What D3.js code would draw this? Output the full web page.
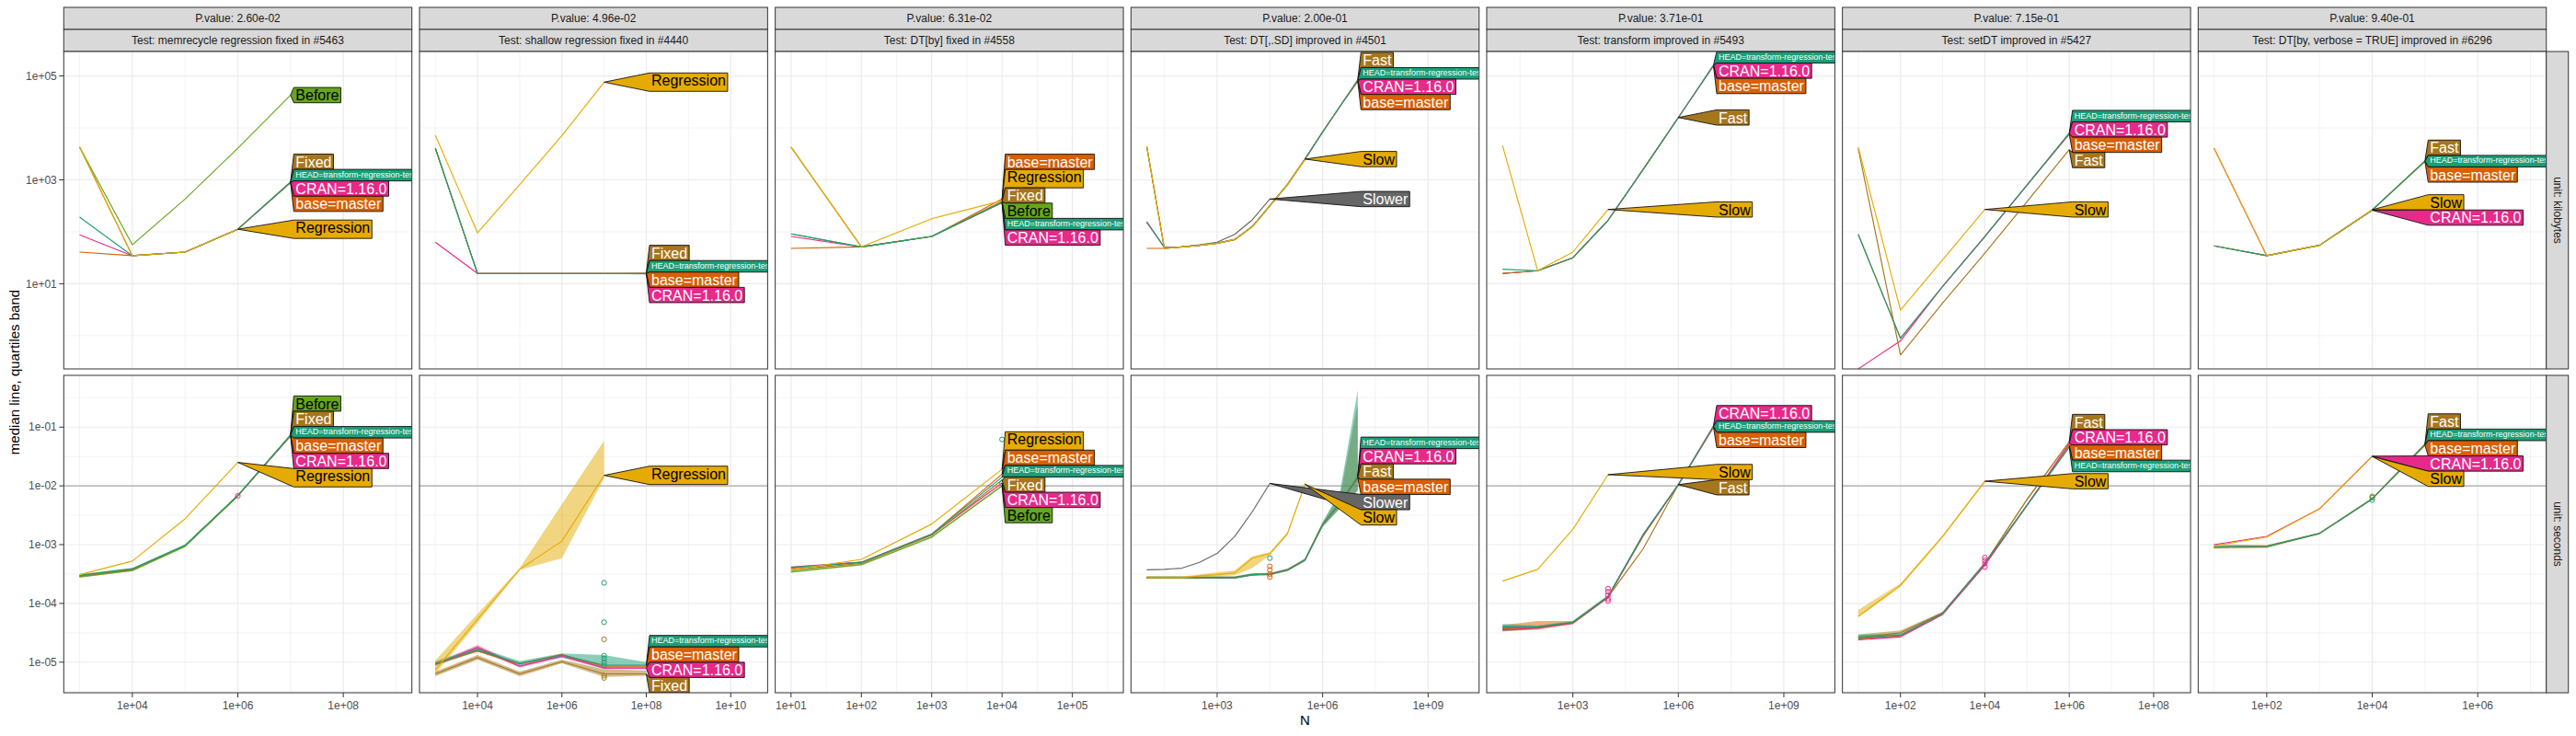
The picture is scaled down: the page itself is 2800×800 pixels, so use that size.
<!DOCTYPE html>
<html><head><meta charset="utf-8">
<script src="https://cdn.jsdelivr.net/npm/d3@7"></script>
<style>
body{margin:0;background:#fff;}
text{font-family:"Liberation Sans",Arial,Helvetica,sans-serif;}
</style></head><body>
<svg id="chart" width="2800" height="800"></svg>
<script>
// ---------------- DATA ----------------
const testTitles = ["Test: memrecycle regression fixed in #5463","Test: shallow regression fixed in #4440","Test: DT[by] fixed in #4558","Test: DT[,.SD] improved in #4501","Test: transform improved in #5493","Test: setDT improved in #5427","Test: DT[by, verbose = TRUE] improved in #6296"];
const pValues = ["P.value: 2.60e-02","P.value: 4.96e-02","P.value: 6.31e-02","P.value: 2.00e-01","P.value: 3.71e-01","P.value: 7.15e-01","P.value: 9.40e-01"];
const unitNames = ["unit: kilobytes","unit: seconds"];
const seriesLabels = [["HEAD","HEAD=transform-regression-test"],["CRAN","CRAN=1.16.0"],["base","base=master"],["Before","Before"],["Regression","Regression"],["Fixed","Fixed"],["Fast","Fast"],["Slow","Slow"],["Slower","Slower"]];
const xLimits = [[1e3,1e9],[1e3,3.16e10],[10,3.16e5],[10,1e10],[10,1e10],[10,3.16e8],[10,1e7]];
const xTickLabels = [["1e+04","1e+06","1e+08"],["1e+04","1e+06","1e+08","1e+10"],["1e+01","1e+02","1e+03","1e+04","1e+05"],["1e+03","1e+06","1e+09"],["1e+03","1e+06","1e+09"],["1e+02","1e+04","1e+06","1e+08"],["1e+02","1e+04","1e+06"]];
const yLimits = [[0.435,1.556e5],[5.31e-6,0.4315]];
const yTickLabels = [["1e+05","1e+03","1e+01"],["1e-01","1e-02","1e-03","1e-04","1e-05"]];
const secRefLine = [1e-2];

// 1. memrecycle
const N_mem = [1e3,1e4,1e5,1e6,1e7];
const kb_mem = [
 ["base",[40.7,34.7,40.7,112,881]],
 ["CRAN",[87.1,34.7,40.7,112,891]],
 ["Fixed",[4270,34.7,40.7,112,912]],
 ["Before",[4270,56.2,427,4070,42700]],
 ["HEAD",[191,34.7,40.7,112,902]],
 ["Regression",[4270,34.7,40.7,112]]];
const sec_mem = [
 ["base",[2.95e-4,3.80e-4,9.55e-4,6.76e-3,7.16e-2]],
 ["CRAN",[2.88e-4,3.72e-4,9.55e-4,6.76e-3,7.08e-2]],
 ["Fixed",[2.95e-4,3.80e-4,9.55e-4,6.76e-3,7.33e-2]],
 ["Before",[2.82e-4,3.63e-4,9.33e-4,6.76e-3,7.41e-2]],
 ["HEAD",[3.02e-4,3.89e-4,9.77e-4,6.92e-3,7.24e-2]],
 ["Regression",[3.09e-4,5.25e-4,2.75e-3,2.51e-2]]];
const bands_mem = [["HEAD",[2.75e-4,3.55e-4,9.1e-4,6.6e-3,7.0e-2],[3.16e-4,4.0e-4,1.0e-3,7.1e-3,7.4e-2]]];
const pts_mem = [["CRAN",1e6,[6.76e-3]]];

// 2. shallow
const N_sh = [1e3,1e4,1e5,1e6,1e7,1e8];
const kb_sh = [
 ["base",[4070,15.8,15.8,15.8,15.8,15.7]],
 ["CRAN",[63.1,15.8,15.8,15.8,15.8,15.5]],
 ["Fixed",[4070,15.8,15.8,15.8,15.8,16.0]],
 ["HEAD",[4070,15.8,15.8,15.8,15.8,15.8]],
 ["Regression",[7240,95.5,813,7080,75900]]];
const sec_sh = [
 ["base",[9.33e-6,1.55e-5,9.33e-6,1.35e-5,8.51e-6,8.51e-6]],
 ["CRAN",[9.12e-6,1.78e-5,8.51e-6,1.29e-5,7.94e-6,7.94e-6]],
 ["Fixed",[6.31e-6,1.20e-5,6.31e-6,1.02e-5,6.31e-6,6.31e-6]],
 ["HEAD",[9.55e-6,1.62e-5,9.55e-6,1.32e-5,8.91e-6,8.91e-6]],
 ["Regression",[7.41e-6,5.37e-5,3.80e-4,1.15e-3,1.51e-2]]];
const bands_sh = [
 ["Regression",[6.31e-6,4.68e-5,3.72e-4,5.89e-4,1.35e-2],[1.07e-5,6.61e-5,3.98e-4,4.90e-3,5.89e-2]],
 ["HEAD",[8.71e-6,1.51e-5,8.71e-6,1.20e-5,8.32e-6,8.51e-6],[1.05e-5,1.78e-5,1.05e-5,1.41e-5,1.32e-5,1.0e-5]],
 ["CRAN",[8.7e-6,1.62e-5,8.1e-6,1.2e-5,7.6e-6,7.6e-6],[9.6e-6,1.95e-5,8.9e-6,1.38e-5,8.3e-6,8.3e-6]],
 ["Fixed",[5.75e-6,1.10e-5,5.75e-6,9.55e-6,5.62e-6,5.89e-6],[6.92e-6,1.32e-5,6.92e-6,1.10e-5,7.59e-6,7.24e-6]]];
const pts_sh = [["HEAD",1e7,[2.24e-4,4.79e-5,1.29e-5,1.15e-5,1.0e-5,8.9e-6]],["Fixed",1e7,[2.45e-5,5.89e-6,5.4e-6]]];

// 3. DT[by]
const N_by = [10,100,1e3,1e4];
const kb_by = [
 ["base",[47.9,51.3,81.3,427]],
 ["CRAN",[81.3,51.3,81.3,359]],
 ["Fixed",[4270,51.3,81.3,385]],
 ["Before",[91.2,51.3,81.3,376]],
 ["HEAD",[91.2,51.3,81.3,367]],
 ["Regression",[4270,51.3,178,398]]];
const sec_by = [
 ["base",[3.98e-4,5.01e-4,1.51e-3,1.58e-2]],
 ["CRAN",[4.17e-4,5.01e-4,1.48e-3,1.12e-2]],
 ["Fixed",[3.72e-4,4.79e-4,1.45e-3,1.26e-2]],
 ["Before",[3.47e-4,4.57e-4,1.35e-3,1.0e-2]],
 ["HEAD",[4.07e-4,5.01e-4,1.51e-3,1.41e-2]],
 ["Regression",[3.72e-4,5.62e-4,2.24e-3,1.91e-2]]];
const bands_by = [["Before",[3.3e-4,4.4e-4,1.3e-3,9.6e-3],[3.6e-4,4.7e-4,1.4e-3,1.05e-2]]];
const pts_by = [["HEAD",1e4,[6.17e-2,1.12e-2]]];

// 4. DT[,.SD]
const N_sd = [10,31.6,100,316,1e3,3160,1e4,31600,1e5,316000,1e6,3160000,1e7];
const kb_sd = [
 ["Slower",[4370,47.9,51.3,56.2,63.1,89.1,170,427]],
 ["base",[47.9,47.9,51.3,55.0,60.3,70.8,126,316,813,2510,8320,26300,78500]],
 ["CRAN",[151,50.1,51.3,55.0,60.3,70.8,126,316,813,2510,8320,26300,80400]],
 ["Fast",[4370,47.9,51.3,55.0,60.3,70.8,126,316,813,2510,8320,26300,85100]],
 ["HEAD",[158,50.1,51.3,55.0,60.3,70.8,126,316,813,2510,8320,26300,82200]],
 ["Slow",[4370,47.9,51.3,55.0,60.3,70.8,126,316,813,2510]]];
const sec_sd = [
 ["Slower",[3.72e-4,3.80e-4,3.98e-4,5.01e-4,7.08e-4,1.38e-3,3.63e-3,1.10e-2]],
 ["base",[2.75e-4,2.75e-4,2.75e-4,2.75e-4,2.75e-4,2.75e-4,3.09e-4,3.16e-4,3.72e-4,5.50e-4,2.19e-3,5.13e-3,1.35e-2]],
 ["CRAN",[2.75e-4,2.75e-4,2.75e-4,2.75e-4,2.75e-4,2.75e-4,3.09e-4,3.16e-4,3.72e-4,5.50e-4,2.19e-3,5.13e-3,1.41e-2]],
 ["Fast",[2.75e-4,2.75e-4,2.75e-4,2.75e-4,2.75e-4,2.75e-4,3.09e-4,3.16e-4,3.72e-4,5.50e-4,2.19e-3,5.13e-3,1.38e-2]],
 ["HEAD",[2.75e-4,2.75e-4,2.75e-4,2.75e-4,2.75e-4,2.75e-4,3.09e-4,3.16e-4,3.72e-4,5.50e-4,2.19e-3,5.13e-3,1.45e-2]],
 ["Slow",[2.75e-4,2.75e-4,2.75e-4,2.95e-4,3.09e-4,3.31e-4,5.89e-4,7.08e-4,1.55e-3,1.07e-2]]];
const bands_sd = [
 ["Slow",[2.63e-4,2.63e-4,2.63e-4,2.75e-4,2.88e-4,3.02e-4,3.98e-4,6.61e-4,1.45e-3,1.02e-2],[2.88e-4,2.88e-4,2.88e-4,3.09e-4,3.39e-4,3.63e-4,6.31e-4,7.41e-4,1.62e-3,1.12e-2]],
 ["HEAD",[2.63e-4,2.63e-4,2.63e-4,2.63e-4,2.63e-4,2.63e-4,2.95e-4,3.02e-4,3.55e-4,5.25e-4,2.0e-3,4.2e-3,8.3e-3],[2.88e-4,2.88e-4,2.88e-4,2.88e-4,2.88e-4,2.88e-4,3.24e-4,3.31e-4,3.89e-4,5.75e-4,2.4e-3,8.3e-3,0.427]],
 ["Fast",[2.63e-4,2.63e-4,2.63e-4,2.63e-4,2.63e-4,2.63e-4,2.95e-4,3.02e-4,3.55e-4,5.25e-4,2.0e-3,4.2e-3,8.3e-3],[2.88e-4,2.88e-4,2.88e-4,2.88e-4,2.88e-4,2.88e-4,3.24e-4,3.31e-4,3.89e-4,5.75e-4,2.4e-3,7.0e-3,0.25]]];
const pts_sd = [["HEAD",31600,[5.89e-4]],["base",31600,[4.27e-4,3.72e-4,3.16e-4,2.82e-4]]];

// 5. transform
const N_tr = [10,100,1e3,1e4,1e5,1e6,1e7];
const kb_tr = [
 ["base",[15.8,17.8,31.6,166,1585,15849,154900]],
 ["CRAN",[15.8,17.8,31.6,166,1585,15849,158500]],
 ["Fast",[15.8,17.8,31.6,166,1585,15849]],
 ["HEAD",[19.1,17.8,31.6,166,1585,15849,162200]],
 ["Slow",[4570,17.8,40.7,269]]];
const sec_tr = [
 ["base",[3.72e-5,3.89e-5,4.68e-5,1.29e-4,1.41e-3,1.05e-2,0.100]],
 ["CRAN",[3.55e-5,3.80e-5,4.57e-5,1.26e-4,1.48e-3,1.05e-2,0.105]],
 ["Fast",[3.80e-5,3.98e-5,4.68e-5,1.29e-4,8.51e-4,1.05e-2]],
 ["HEAD",[3.98e-5,3.98e-5,4.79e-5,1.32e-4,1.48e-3,1.05e-2,0.102]],
 ["Slow",[2.40e-4,3.80e-4,1.82e-3,1.55e-2]]];
const bands_tr = [
 ["base",[3.39e-5,3.55e-5,4.47e-5,1.23e-4,1.35e-3,1.0e-2,9.5e-2],[4.27e-5,5.01e-5,5.0e-5,1.35e-4,1.48e-3,1.1e-2,0.105]],
 ["HEAD",[3.31e-5,3.7e-5,4.6e-5,1.26e-4,1.41e-3,1.0e-2,9.8e-2],[4.47e-5,4.2e-5,5.0e-5,1.38e-4,1.55e-3,1.1e-2,0.106]]];
const pts_tr = [["CRAN",1e4,[1.78e-4,1.58e-4,1.38e-4,1.20e-4,1.10e-4]]];

// 6. setDT
const N_set = [10,100,1e3,1e4,1e5,1e6];
const kb_set = [
 ["base",[89.1,0.891,8.91,81.3,794,7590]],
 ["CRAN",[0.23,0.794,8.91,81.3,794,7760]],
 ["Fast",[3980,0.427,4.27,38.9,380,3800]],
 ["HEAD",[89.1,0.891,8.91,81.3,794,7940]],
 ["Slow",[4270,3.09,28.8,269]]];
const sec_set = [
 ["base",[2.51e-5,2.82e-5,6.76e-5,4.68e-4,4.68e-3,4.90e-2]],
 ["CRAN",[2.40e-5,2.69e-5,6.46e-5,4.47e-4,4.68e-3,5.25e-2]],
 ["Fast",[2.63e-5,3.16e-5,6.92e-5,4.79e-4,5.89e-3,5.62e-2]],
 ["HEAD",[2.63e-5,2.88e-5,6.76e-5,4.79e-4,4.68e-3,4.57e-2]],
 ["Slow",[6.03e-5,2.04e-4,1.38e-3,1.20e-2]]];
const bands_set = [
 ["Slow",[5.75e-5,1.91e-4,1.32e-3,1.15e-2],[7.76e-5,2.19e-4,1.45e-3,1.26e-2]],
 ["Fast",[2.40e-5,2.95e-5,6.6e-5,4.57e-4,5.6e-3,5.4e-2],[2.95e-5,3.47e-5,7.2e-5,5.0e-4,6.2e-3,5.8e-2]],
 ["HEAD",[2.40e-5,2.7e-5,6.5e-5,4.6e-4,4.5e-3,4.4e-2],[2.95e-5,3.0e-5,7.0e-5,5.0e-4,4.9e-3,4.8e-2]]];
const pts_set = [["CRAN",1e4,[6.03e-4,5.37e-4,4.79e-4,4.17e-4]]];

// 7. DT[by, verbose = TRUE]
const N_vb = [10,100,1e3,1e4,1e5];
const kb_vb = [
 ["base",[53.7,34.7,55.0,263,2240]],
 ["CRAN",[4070,34.7,55.0,260]],
 ["Fast",[53.7,34.7,55.0,263,2340]],
 ["HEAD",[53.7,34.7,55.0,263,2290]],
 ["Slow",[4070,34.7,55.0,266]]];
const sec_vb = [
 ["base",[9.12e-4,9.33e-4,1.55e-3,6.03e-3,4.90e-2]],
 ["CRAN",[1.0e-3,1.38e-3,4.07e-3,3.20e-2]],
 ["Fast",[9.12e-4,9.33e-4,1.55e-3,6.03e-3,5.13e-2]],
 ["HEAD",[9.12e-4,9.33e-4,1.55e-3,6.03e-3,5.01e-2]],
 ["Slow",[9.55e-4,1.35e-3,4.07e-3,3.16e-2]]];
const bands_vb = [["Fast",[8.51e-4,8.71e-4,1.5e-3,5.8e-3,4.9e-2],[1.02e-3,9.8e-4,1.6e-3,6.3e-3,5.3e-2]]];
const pts_vb = [["HEAD",1e4,[6.31e-3,5.75e-3]],["Fast",1e4,[6.61e-3]]];

// ---------------- STYLE ----------------
const colors = {HEAD:"#1B9E77",CRAN:"#E7298A",base:"#D95F02",Before:"#66A61E",Regression:"#E6AB02",Fixed:"#A6761D",Fast:"#A6761D",Slow:"#E6AB02",Slower:"#666666"};
const darkText = new Set(["Before","Regression","Slow"]);
const labelFontSize = {HEAD:9};
const drawOrder = ["Slower","base","CRAN","Fast","Fixed","Before","HEAD","Slow","Regression"];
const labelText = Object.fromEntries(seriesLabels);

const panelTable = [
 {N:N_mem,rows:[{s:kb_mem,b:[],p:[]},{s:sec_mem,b:bands_mem,p:pts_mem}]},
 {N:N_sh,rows:[{s:kb_sh,b:[],p:[]},{s:sec_sh,b:bands_sh,p:pts_sh}]},
 {N:N_by,rows:[{s:kb_by,b:[],p:[]},{s:sec_by,b:bands_by,p:pts_by}]},
 {N:N_sd,rows:[{s:kb_sd,b:[],p:[]},{s:sec_sd,b:bands_sd,p:pts_sd}]},
 {N:N_tr,rows:[{s:kb_tr,b:[],p:[]},{s:sec_tr,b:bands_tr,p:pts_tr}]},
 {N:N_set,rows:[{s:kb_set,b:[],p:[]},{s:sec_set,b:bands_set,p:pts_set}]},
 {N:N_vb,rows:[{s:kb_vb,b:[],p:[]},{s:sec_vb,b:bands_vb,p:pts_vb}]}
];

// ---------------- LAYOUT ----------------
const PX0=69.3, PSTEP=386.67, PW=378.4, ROWTOP=[56,408], PH=345;
const STRIP1=[8,32], STRIP2=[32,56];
const svg = d3.select("#chart");

function logExpand([a,b]){const la=Math.log10(a), lb=Math.log10(b), e=(lb-la)*0.05; return [Math.pow(10,la-e), Math.pow(10,lb+e)];}
function minorTicks(majors, dom){
  const l = majors.map(Math.log10).sort((a,b)=>a-b);
  const step = l.length>1 ? l[1]-l[0] : 1;
  const ext = [l[0]-step, ...l, l[l.length-1]+step];
  const res=[]; for(let i=0;i<ext.length-1;i++) res.push((ext[i]+ext[i+1])/2);
  const d0=Math.log10(dom[0]), d1=Math.log10(dom[1]);
  return res.filter(v=>v>=d0&&v<=d1).map(v=>Math.pow(10,v));
}
const measurer = svg.append("text").attr("x",-1000).attr("y",-1000);
function textWidth(t, fs){ measurer.attr("font-size",fs).text(t); return measurer.node().getComputedTextLength(); }

function placeLabels(items, top, bottom){
  items.sort((a,b)=>a.t-b.t);
  const n=items.length, o=[0];
  for(let i=1;i<n;i++) o[i]=o[i-1]+(items[i-1].h+items[i].h)/2;
  const b = items.map((d,i)=>d.t-o[i]);
  const blocks=[];
  b.forEach(v=>{ blocks.push({sum:v,n:1});
    while(blocks.length>1 && blocks[blocks.length-2].sum/blocks[blocks.length-2].n > blocks[blocks.length-1].sum/blocks[blocks.length-1].n){
      const last=blocks.pop(); blocks[blocks.length-1].sum+=last.sum; blocks[blocks.length-1].n+=last.n; }
  });
  const d=[]; blocks.forEach(bl=>{ for(let k=0;k<bl.n;k++) d.push(bl.sum/bl.n); });
  const L = top + items[0].h/2 - o[0], U = bottom - items[n-1].h/2 - o[n-1];
  items.forEach((it,i)=>{ let v=Math.min(Math.max(d[i],L),U); it.c = v+o[i]; });
  return items;
}

const ys = yLimits.map(logExpand);

panelTable.forEach((col,c)=>{
  const x0 = PX0 + c*PSTEP;
  const xDom = logExpand(xLimits[c]);
  const x = d3.scaleLog().domain(xDom).range([x0, x0+PW]);
  const xMaj = xTickLabels[c].map(Number);
  const xMin = minorTicks(xMaj, xDom);

  // top strips
  svg.append("rect").attr("x",x0).attr("y",STRIP1[0]).attr("width",PW).attr("height",STRIP1[1]-STRIP1[0]).attr("fill","#D9D9D9").attr("stroke","#333").attr("stroke-width",1);
  svg.append("text").attr("x",x0+PW/2).attr("y",(STRIP1[0]+STRIP1[1])/2+4.2).attr("text-anchor","middle").attr("font-size",12).attr("fill","#1A1A1A").text(pValues[c]);
  svg.append("rect").attr("x",x0).attr("y",STRIP2[0]).attr("width",PW).attr("height",STRIP2[1]-STRIP2[0]).attr("fill","#D9D9D9").attr("stroke","#333").attr("stroke-width",1);
  svg.append("text").attr("x",x0+PW/2).attr("y",(STRIP2[0]+STRIP2[1])/2+4.2).attr("text-anchor","middle").attr("font-size",12).attr("fill","#1A1A1A").text(testTitles[c]);

  col.rows.forEach((row,r)=>{
    const y0 = ROWTOP[r];
    const y = d3.scaleLog().domain(ys[r]).range([y0+PH, y0]);
    const yMaj = yTickLabels[r].map(Number);
    const yMin = minorTicks(yMaj, ys[r]);
    const clipId = `clip-${c}-${r}`;
    svg.append("clipPath").attr("id",clipId).append("rect").attr("x",x0).attr("y",y0).attr("width",PW).attr("height",PH);
    const g = svg.append("g").attr("clip-path",`url(#${clipId})`);
    g.append("rect").attr("x",x0).attr("y",y0).attr("width",PW).attr("height",PH).attr("fill","#fff");
    // grid
    g.selectAll(null).data(xMin).join("line").attr("x1",d=>x(d)).attr("x2",d=>x(d)).attr("y1",y0).attr("y2",y0+PH).attr("stroke","#EBEBEB").attr("stroke-width",0.6);
    g.selectAll(null).data(yMin).join("line").attr("y1",d=>y(d)).attr("y2",d=>y(d)).attr("x1",x0).attr("x2",x0+PW).attr("stroke","#EBEBEB").attr("stroke-width",0.6);
    g.selectAll(null).data(xMaj).join("line").attr("x1",d=>x(d)).attr("x2",d=>x(d)).attr("y1",y0).attr("y2",y0+PH).attr("stroke","#EBEBEB").attr("stroke-width",1.2);
    g.selectAll(null).data(yMaj).join("line").attr("y1",d=>y(d)).attr("y2",d=>y(d)).attr("x1",x0).attr("x2",x0+PW).attr("stroke","#EBEBEB").attr("stroke-width",1.2);
    if(r===1){
      g.selectAll(null).data(secRefLine).join("line").attr("y1",d=>y(d)).attr("y2",d=>y(d)).attr("x1",x0).attr("x2",x0+PW).attr("stroke","#ABABAB").attr("stroke-width",1.2);
    }
    const order = k => drawOrder.indexOf(k);
    // bands
    row.b.slice().sort((a,b)=>order(a[0])-order(b[0])).forEach(([k,lo,hi])=>{
      const pts = lo.map((v,i)=>({x:col.N[i],lo:v,hi:hi[i]}));
      g.append("path").attr("d",d3.area().x(d=>x(d.x)).y0(d=>y(d.lo)).y1(d=>y(d.hi))(pts)).attr("fill",colors[k]).attr("fill-opacity",0.5).attr("stroke","none");
    });
    // lines
    row.s.slice().sort((a,b)=>order(a[0])-order(b[0])).forEach(([k,vals])=>{
      const pts = vals.map((v,i)=>[x(col.N[i]),y(v)]);
      g.append("path").attr("d",d3.line()(pts)).attr("fill","none").attr("stroke",colors[k]).attr("stroke-width",1.15).attr("stroke-linejoin","round");
    });
    // outlier points
    row.p.forEach(([k,n,vals])=>{
      g.selectAll(null).data(vals).join("circle").attr("cx",x(n)).attr("cy",d=>y(d)).attr("r",2.6).attr("fill","none").attr("stroke",colors[k]).attr("stroke-width",1);
    });
    // direct labels
    const items = row.s.map(([k,vals])=>{
      const li = vals.length-1; const txt = labelText[k]; const fs = labelFontSize[k]||16;
      const pad = 1.5+0.06*fs;
      const h = fs*0.73 + (/[gjpqy]/.test(txt)? fs*0.21 : 0) + 2*pad;
      return {k, txt, fs, pad, h, tx:x(col.N[li]), ty:y(vals[li]), t:y(vals[li]), w:textWidth(txt,fs)+4};
    });
    const bx = d3.max(items,d=>d.tx)+3.5;
    placeLabels(items, y0, y0+PH);
    items.forEach(it=>{
      const top = it.c - it.h/2, bot = it.c + it.h/2;
      g.append("polygon").attr("points",[[it.tx,it.ty],[bx,top],[bx+it.w,top],[bx+it.w,bot],[bx,bot]].map(p=>p.join(",")).join(" "))
        .attr("fill",colors[it.k]).attr("stroke","#111").attr("stroke-width",0.9).attr("stroke-linejoin","miter");
      g.append("text").attr("x",bx+2).attr("y",top+it.pad+it.fs*0.73).attr("font-size",it.fs)
        .attr("fill",darkText.has(it.k)?"#000":"#fff").text(it.txt);
    });
    // border
    svg.append("rect").attr("x",x0).attr("y",y0).attr("width",PW).attr("height",PH).attr("fill","none").attr("stroke","#333").attr("stroke-width",1);

    // y axis on first column
    if(c===0){
      yMaj.forEach((v,i)=>{
        svg.append("line").attr("x1",x0-5).attr("x2",x0).attr("y1",y(v)).attr("y2",y(v)).attr("stroke","#333").attr("stroke-width",1);
        svg.append("text").attr("x",x0-7.5).attr("y",y(v)+4.2).attr("text-anchor","end").attr("font-size",12).attr("fill","#4D4D4D").text(yTickLabels[r][i]);
      });
    }
    // x axis on bottom row
    if(r===1){
      xMaj.forEach((v,i)=>{
        svg.append("line").attr("x1",x(v)).attr("x2",x(v)).attr("y1",y0+PH).attr("y2",y0+PH+5).attr("stroke","#333").attr("stroke-width",1);
        svg.append("text").attr("x",x(v)).attr("y",y0+PH+17.5).attr("text-anchor","middle").attr("font-size",12).attr("fill","#4D4D4D").text(xTickLabels[c][i]);
      });
    }
    // right strips
    if(c===panelTable.length-1){
      const sx = x0+PW;
      svg.append("rect").attr("x",sx).attr("y",y0).attr("width",24).attr("height",PH).attr("fill","#D9D9D9").attr("stroke","#333").attr("stroke-width",1);
      svg.append("text").attr("transform",`translate(${sx+12-4.2},${y0+PH/2}) rotate(90)`).attr("text-anchor","middle").attr("font-size",12).attr("fill","#1A1A1A").text(unitNames[r]);
    }
  });
});
measurer.remove();

// axis titles
svg.append("text").attr("x",PX0+(6*PSTEP+PW)/2).attr("y",788).attr("text-anchor","middle").attr("font-size",15).attr("fill","#000").text("N");
svg.append("text").attr("transform",`translate(21,${(ROWTOP[0]+ROWTOP[1]+PH)/2}) rotate(-90)`).attr("text-anchor","middle").attr("font-size",15).attr("fill","#000").text("median line, quartiles band");
</script>
</body></html>
